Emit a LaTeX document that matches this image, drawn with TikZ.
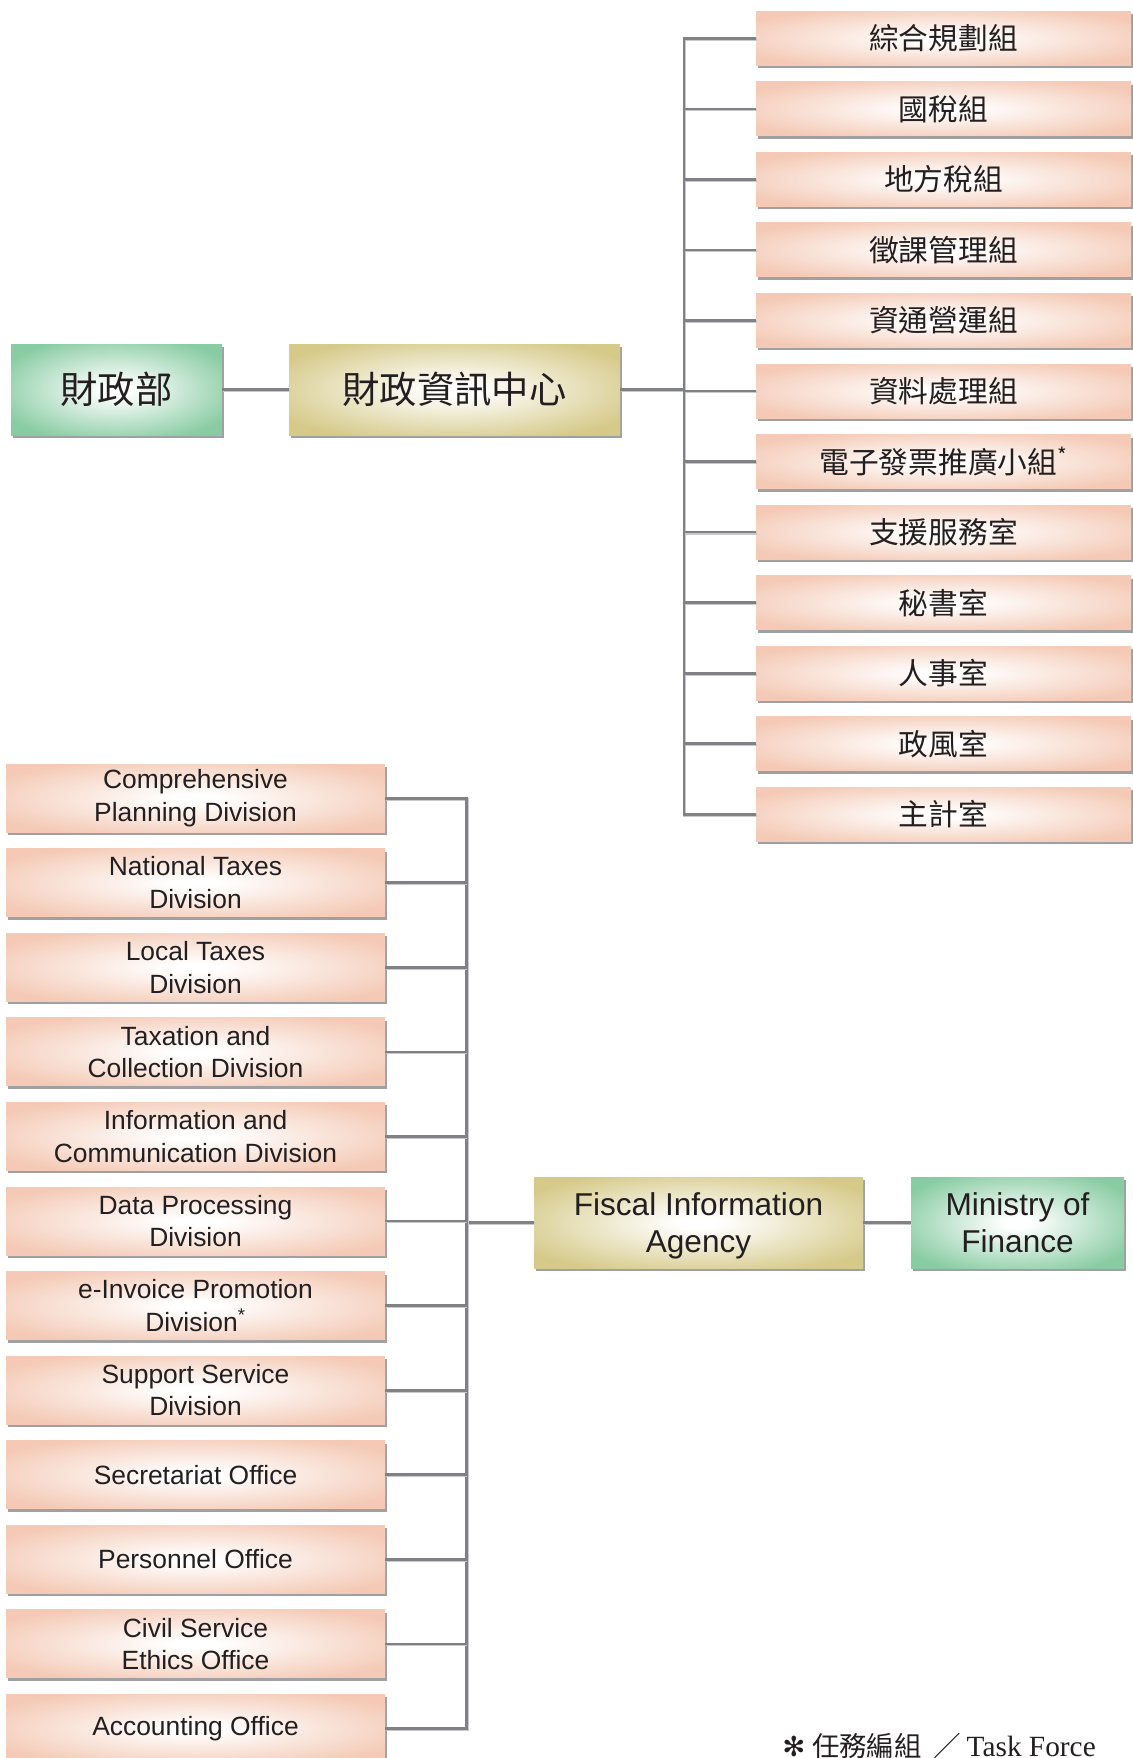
\documentclass[tikz,border=0pt]{standalone}
\usepackage{fontspec}
\setmainfont{Liberation Sans}
\newfontfamily\cjk{Noto Sans CJK TC}
\newfontfamily\symbolfont{DejaVu Sans}
\newfontfamily\notefont{Liberation Serif}
\usetikzlibrary{shadows}

\definecolor{salmonbox}{RGB}{244,202,182}
\definecolor{greenbox}{RGB}{137,204,163}
\definecolor{tanbox}{RGB}{214,202,138}
\definecolor{linegray}{RGB}{128,129,133}
\definecolor{lineshade}{RGB}{200,200,202}
\definecolor{boxshade}{RGB}{160,160,162}
\definecolor{textgray}{RGB}{35,31,32}

\pgfdeclareradialshading{salmonglow}{\pgfpoint{0bp}{0bp}}{color(0bp)=(white); color(3bp)=(white); color(30bp)=(salmonbox); color(50bp)=(salmonbox)}
\pgfdeclareradialshading{greenglow}{\pgfpoint{0bp}{0bp}}{color(0bp)=(white); color(3bp)=(white); color(30bp)=(greenbox); color(50bp)=(greenbox)}
\pgfdeclareradialshading{tanglow}{\pgfpoint{0bp}{0bp}}{color(0bp)=(white); color(3bp)=(white); color(30bp)=(tanbox); color(50bp)=(tanbox)}

\tikzset{
  unitbox/.style={rectangle, inner sep=0pt, outer sep=0pt, text=textgray, align=center,
    drop shadow={shadow xshift=1.6pt, shadow yshift=-2.2pt, fill=boxshade, opacity=1}},
  ministrybox/.style={unitbox, shade, shading=greenglow},
  agencybox/.style={unitbox, shade, shading=tanglow},
  divbox/.style={unitbox, shade, shading=salmonglow},
  link/.style={draw=linegray, preaction={draw=lineshade, transform canvas={shift={(0.5pt,-0.8pt)}}}},
}

\begin{document}
\begin{tikzpicture}[x=0.75pt, y=-0.75pt, line width=2pt]

        \useasboundingbox (0,0) rectangle (1132,1758);

        % Chinese chart: ministry, agency and the twelve divisions.
        \node[ministrybox, minimum width=158.25pt, minimum height=68.25pt,
              font=\cjk\fontsize{28}{33}\selectfont] (mofzh) at (116.5,389.5) {財政部};
        \node[agencybox, minimum width=248.25pt, minimum height=68.25pt,
              font=\cjk\fontsize{28}{33}\selectfont] (fiazh) at (454.5,389.5) {財政資訊中心};
        \foreach \i/\name in {1/綜合規劃組, 2/國稅組, 3/地方稅組, 4/徵課管理組,
            5/資通營運組, 6/資料處理組, 7/電子發票推廣小組\textsuperscript{*}, 8/支援服務室,
            9/秘書室, 10/人事室, 11/政風室, 12/主計室}
          \node[divbox, minimum width=281.25pt, minimum height=40.5pt,
                font=\cjk\fontsize{22.3}{26}\selectfont] (zh\i) at (943.5,{38.3+70.55*(\i-1)}) {\name};

        % Bus and branches of the Chinese chart.
        \coordinate (zhbus) at (684,0);
        \draw[link] (mofzh.east) -- (fiazh.west);
        \draw[link] (fiazh.east) -- (fiazh.east -| zhbus);
        \draw[link] (zh1.west) -- (zh1.west -| zhbus) -- (zh12.west -| zhbus) -- (zh12.west);
        \foreach \i in {2,...,11}
          \draw[link] (zh\i.west -| zhbus) -- (zh\i.west);

        % English chart: the twelve divisions, agency and ministry.
        \foreach \i/\name in {1/{Comprehensive\\Planning Division}, 2/{National Taxes\\Division},
            3/{Local Taxes\\Division}, 4/{Taxation and\\Collection Division},
            5/{Information and\\Communication Division}, 6/{Data Processing\\Division},
            7/{e-Invoice Promotion\\Division\textsuperscript{*}}, 8/{Support Service\\Division},
            9/{Secretariat Office}, 10/{Personnel Office}, 11/{Civil Service\\Ethics Office},
            12/{Accounting Office}}
          \node[divbox, minimum width=284.25pt, minimum height=51pt,
                font=\fontsize{19.8}{24.4}\selectfont] (en\i) at (195.5,{798.2+84.57*(\i-1)}) {\name};
        \node[agencybox, minimum width=246.75pt, minimum height=68.25pt,
              font=\fontsize{23.7}{27.7}\selectfont] (fiaen) at (698.5,1222.5)
              {Fiscal Information\\\raisebox{0pt}[\height][0pt]{Agency}};
        \node[ministrybox, minimum width=159.75pt, minimum height=68.25pt,
              font=\fontsize{23.7}{27.7}\selectfont] (mofen) at (1017.5,1222.5) {Ministry of\\Finance};

        % Bus and branches of the English chart.
        \coordinate (enbus) at (466.5,0);
        \draw[link] (fiaen.east) -- (mofen.west);
        \draw[link] (fiaen.west) -- (fiaen.west -| enbus);
        \draw[link] (en1.east) -- (en1.east -| enbus) -- (en12.east -| enbus) -- (en12.east);
        \foreach \i in {2,...,11}
          \draw[link] (en\i.east -| enbus) -- (en\i.east);

        % Footnote for the task force.
        \node[anchor=base west, inner sep=0pt, text=textgray, font=\fontsize{20.6}{24}\selectfont]
          (note) at (781,1756) {{\symbolfont ✻}\kern5pt{\cjk 任務編組}\kern9pt{\cjk ／}\kern4pt{\notefont\fontsize{22}{26}\selectfont Task Force}};
    \end{tikzpicture}
\end{document}
